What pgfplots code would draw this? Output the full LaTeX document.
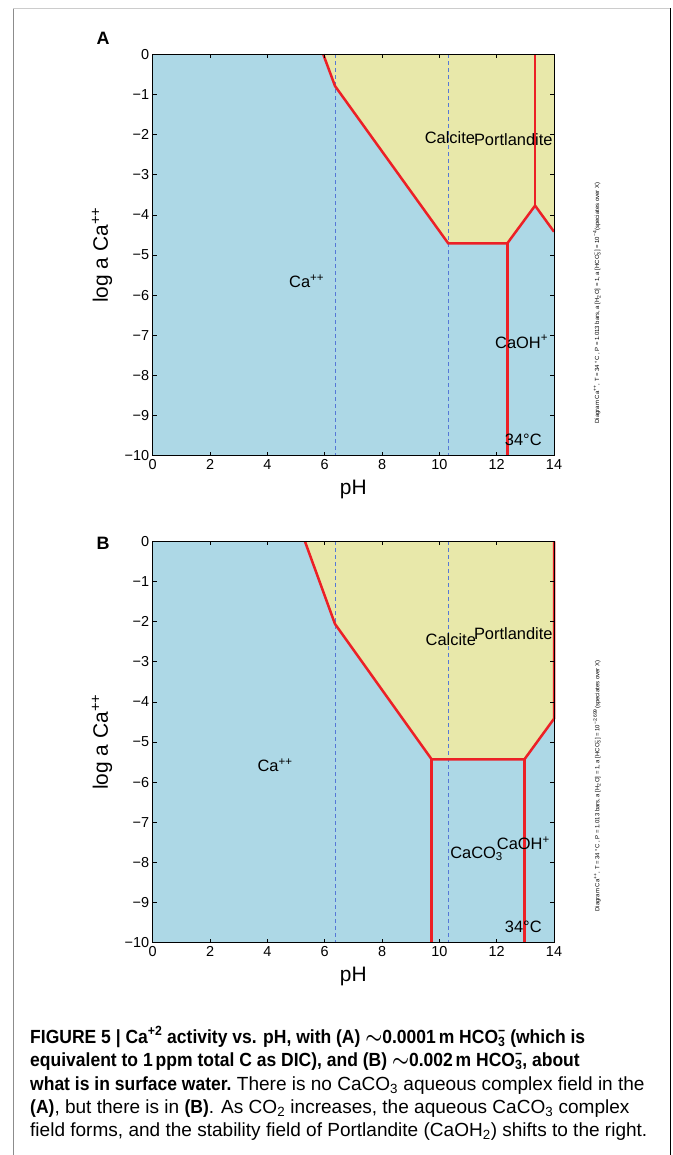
\documentclass[border=0pt]{standalone}
\usepackage{fontspec}
\setmainfont{Liberation Sans}
\usepackage{pgfplots}
\pgfplotsset{compat=1.18}
\definecolor{bluefield}{RGB}{173,216,230}
\definecolor{yellowfield}{RGB}{232,232,170}
\definecolor{redline}{RGB}{236,32,38}
\definecolor{dashblue}{RGB}{85,120,215}
\newcommand{\subsup}[2]{\rlap{\textsuperscript{#2}}\textsubscript{#1}}
\newcommand{\fs}[1]{\fontsize{#1}{#1}\selectfont}
\newcommand{\bc}[1]{\scalebox{0.92}[1]{\textbf{#1}}}
\tikzset{fieldlabel/.style={font=\fs{16.5}, inner sep=0pt}}
\pgfplotsset{phase/.style={
  scale only axis, width=401.3bp, height=401.4bp,
  xmin=0, xmax=14, ymin=-10, ymax=0,
  xtick={0,2,...,14},
  ytick={-10,-9,-8,-7,-6,-5,-4,-3,-2,-1,0},
  yticklabels={−10,−9,−8,−7,−6,−5,−4,−3,−2,−1,0},
  /pgf/number format/assume math mode=true,
  tick align=inside, major tick length=4bp,
  tick style={black, line width=0.6bp},
  axis line style={black, line width=0.8bp},
  ticklabel style={font=\fs{14.5}},
  xlabel={pH}, ylabel={log a Ca\textsuperscript{++}},
  label style={font=\fs{21}},
  xlabel style={at={(axis description cs:0.5,-0.085)}, anchor=center},
  ylabel style={at={(axis description cs:-0.126,0.5)}, anchor=center},
  axis on top, clip=false,
  bgfill/.style={draw=none},
  dashv/.style={dashblue, line width=0.7bp, dash pattern=on 4bp off 3bp},
  redl/.style={redline, line width=2.5bp, line join=miter},
}}
\begin{document}
\begin{tikzpicture}
\useasboundingbox (0,0) rectangle (673bp,-1155bp);
% frame
\draw[gray!90, line width=1bp] (13bp,-1155bp) -- (13bp,-8bp);
\draw[gray!40, line width=1bp] (13bp,-8bp) -- (670bp,-8bp);
\draw[black, line width=1bp] (670bp,-8bp) -- (670bp,-1155bp);

% Panel A
\node[font=\bfseries\fs{18}] at (103bp,-38bp) {A};
\begin{axis}[phase, at={(152.7bp,-455.7bp)}, anchor=south west]
\addplot[bgfill, fill=bluefield] coordinates {(0,0) (14,0) (14,-10) (0,-10)} -- cycle;
\addplot[bgfill, fill=yellowfield] coordinates {(5.95,0) (6.36,-0.79) (10.31,-4.71) (12.37,-4.71) (13.34,-3.77) (14,-4.42) (14,0)} -- cycle;
\addplot[dashv] coordinates {(6.36,0) (6.36,-10)};
\addplot[dashv] coordinates {(10.31,0) (10.31,-10)};
\addplot[redl] coordinates {(5.95,0) (6.36,-0.79) (10.31,-4.71) (12.37,-4.71) (13.34,-3.77) (14,-4.42)};
\addplot[redl] coordinates {(12.37,-4.71) (12.37,-10)};
\addplot[redl] coordinates {(13.34,-3.77) (13.34,0)};
\node[fieldlabel] at (axis cs:5.37,-5.66) {Ca\textsuperscript{++}};
\node[fieldlabel] at (axis cs:10.37,-2.07) {Calcite};
\node[fieldlabel] at (axis cs:12.58,-2.13) {Portlandite};
\node[fieldlabel] at (axis cs:12.87,-7.16) {CaOH\textsuperscript{+}};
\node[fieldlabel] at (axis cs:12.93,-9.6) {34°C};
\end{axis}
\node[rotate=90, font=\fs{6}, inner sep=0pt] at (597bp,-303bp) {Diagram Ca\textsuperscript{++}, T = 34 °C , P = 1.013 bars, a [H\textsubscript{2}O] = 1, a [HCO\subsup{3}{−}] = 10\textsuperscript{−4}(speciates over X)};

% Panel B
\node[font=\bfseries\fs{18}] at (103bp,-543bp) {B};
\begin{axis}[phase, at={(152.7bp,-942.7bp)}, anchor=south west]
\addplot[bgfill, fill=bluefield] coordinates {(0,0) (14,0) (14,-10) (0,-10)} -- cycle;
\addplot[bgfill, fill=yellowfield] coordinates {(5.31,0) (6.36,-2.06) (9.73,-5.43) (12.97,-5.43) (14,-4.42) (14,0)} -- cycle;
\addplot[dashv] coordinates {(6.36,0) (6.36,-10)};
\addplot[dashv] coordinates {(10.31,0) (10.31,-10)};
\addplot[redl] coordinates {(5.31,0) (6.36,-2.06) (9.73,-5.43) (12.97,-5.43) (14,-4.42) (14,0)};
\addplot[redl] coordinates {(9.73,-5.43) (9.73,-10)};
\addplot[redl] coordinates {(12.97,-5.43) (12.97,-10)};
\node[fieldlabel] at (axis cs:4.27,-5.57) {Ca\textsuperscript{++}};
\node[fieldlabel] at (axis cs:10.4,-2.45) {Calcite};
\node[fieldlabel] at (axis cs:12.58,-2.29) {Portlandite};
\node[fieldlabel] at (axis cs:11.3,-7.79) {CaCO\textsubscript{3}};
\node[fieldlabel] at (axis cs:12.93,-7.52) {CaOH\textsuperscript{+}};
\node[fieldlabel] at (axis cs:12.93,-9.6) {34°C};
\end{axis}
\node[rotate=90, font=\fs{6}, inner sep=0pt] at (597bp,-786bp) {Diagram Ca\textsuperscript{++}, T = 34 °C , P = 1.013 bars, a [H\textsubscript{2}O] = 1, a [HCO\subsup{3}{−}] = 10\textsuperscript{−2.699}(speciates over X)};

% Caption
\begin{scope}[every node/.style={anchor=base west, inner sep=0pt, font=\fs{19.1}}]
\node at (30bp,-1043bp) {\bc{FIGURE 5 | Ca\textsuperscript{+2} activity vs. pH, with (A) {\boldmath$\sim$}0.0001\,m HCO\subsup{3}{−} (which is}};
\node at (30bp,-1066bp) {\bc{equivalent to 1\,ppm total C as DIC), and (B) {\boldmath$\sim$}0.002\,m HCO\subsup{3}{−}, about}};
\node at (30bp,-1090bp) {\bc{what is in surface water.} There is no CaCO\textsubscript{3} aqueous complex field in the};
\node at (30bp,-1113bp) {\bc{(A)}, but there is in \bc{(B)}. As CO\textsubscript{2} increases, the aqueous CaCO\textsubscript{3} complex};
\node at (30bp,-1136bp) {field forms, and the stability field of Portlandite (CaOH\textsubscript{2}) shifts to the right.};
\end{scope}
\end{tikzpicture}
\end{document}
